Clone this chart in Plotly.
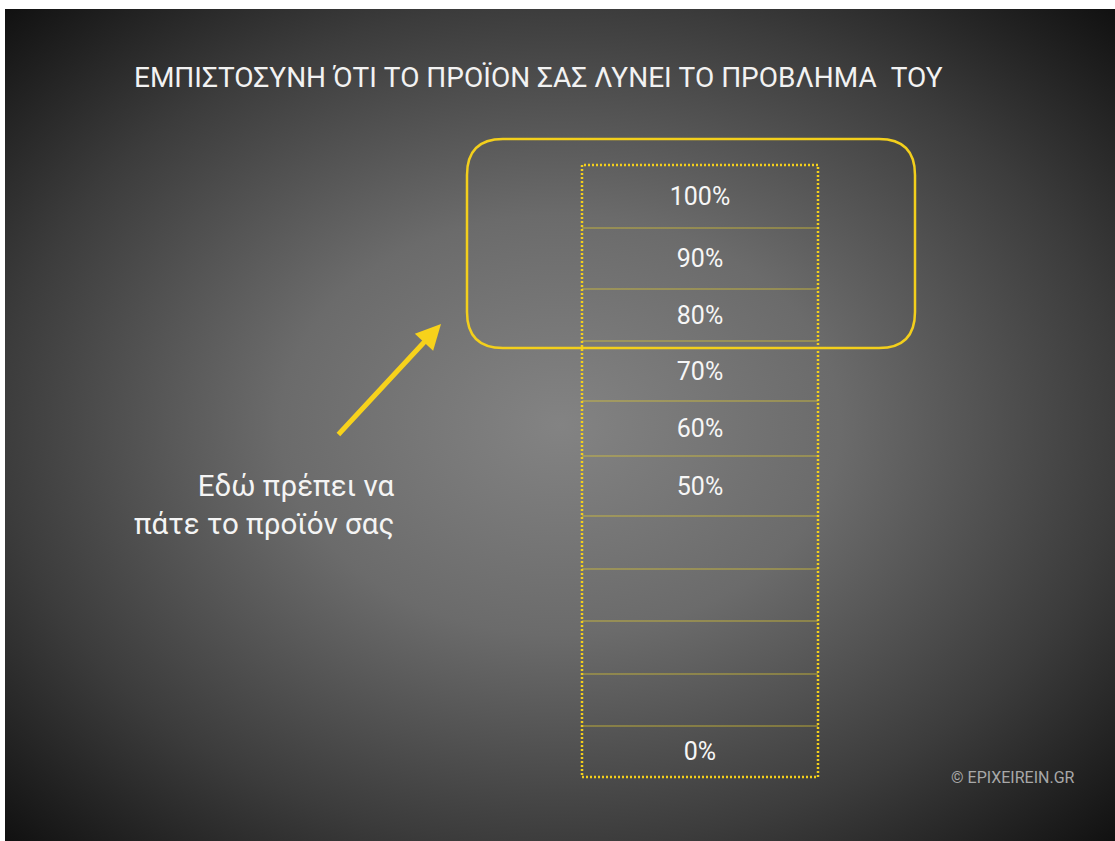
import base64
import plotly.graph_objects as go

# Confidence scale, bottom to top
levels = [0, 10, 20, 30, 40, 50, 60, 70, 80, 90, 100]
labelled_levels = [0, 50, 60, 70, 80, 90, 100]
row_heights = [51, 52, 53, 52, 53, 60, 55, 60, 52, 61, 63]

title_text = "ΕΜΠΙΣΤΟΣΥΝΗ ΌΤΙ ΤΟ ΠΡΟΪΟΝ ΣΑΣ ΛΥΝΕΙ ΤΟ ΠΡΟΒΛΗΜΑ  ΤΟΥ"
callout_text = "Εδώ πρέπει να<br>πάτε το προϊόν σας"
credit_text = "© EPIXEIREIN.GR"

W, H = 1115, 841
COL_X0, COL_X1 = 582, 818
COL_BOTTOM_PX = 777          # pixel row of the scale's zero line
YELLOW = "#f3cf1c"


def y_of(px):
    """Convert a pixel row (from the top) into y-axis units."""
    return COL_BOTTOM_PX - px


bases = []
acc = 0
for h in row_heights:
    bases.append(acc)
    acc += h
total = acc

labels = [f"{v}%" if v in labelled_levels else "" for v in levels]

fig = go.Figure()
fig.add_trace(go.Bar(
    x=[(COL_X0 + COL_X1) / 2] * len(levels),
    y=row_heights,
    base=bases,
    width=COL_X1 - COL_X0,
    text=labels,
    textposition="inside",
    insidetextanchor="middle",
    textangle=0,
    textfont=dict(family="Roboto", size=25, color="#f6f6f6"),
    marker=dict(color="rgba(0,0,0,0)", line=dict(width=0)),
    hoverinfo="skip",
    showlegend=False,
))

shapes = []
# thin separators between the rows
for b in bases[1:]:
    shapes.append(dict(type="line", xref="x", yref="y",
                       x0=COL_X0, x1=COL_X1, y0=b, y1=b,
                       line=dict(color="rgba(228,205,45,0.7)", width=1)))
# dotted outline of the whole scale
shapes.append(dict(type="rect", xref="x", yref="y",
                   x0=COL_X0, x1=COL_X1, y0=0, y1=total,
                   line=dict(color=YELLOW, width=2.5, dash="2px,2px")))

# rounded highlight around the top rows
L, R, T, B, r = 467, 915, 139, 348, 36
path = (f"M{L + r},{y_of(T)} L{R - r},{y_of(T)} Q{R},{y_of(T)} {R},{y_of(T + r)} "
        f"L{R},{y_of(B - r)} Q{R},{y_of(B)} {R - r},{y_of(B)} "
        f"L{L + r},{y_of(B)} Q{L},{y_of(B)} {L},{y_of(B - r)} "
        f"L{L},{y_of(T + r)} Q{L},{y_of(T)} {L + r},{y_of(T)} Z")
shapes.append(dict(type="path", xref="x", yref="y", path=path,
                   line=dict(color=YELLOW, width=2.5)))

# radial backdrop
svg = f"""<svg xmlns='http://www.w3.org/2000/svg' width='1110' height='832' viewBox='0 0 1110 832' preserveAspectRatio='none'>
<defs><radialGradient id='g' cx='0.5' cy='0.5' r='0.72'>
<stop offset='0' stop-color='#838383'/>
<stop offset='0.35' stop-color='#6b6b6b'/>
<stop offset='0.7' stop-color='#3c3c3c'/>
<stop offset='1' stop-color='#0e0e0e'/>
</radialGradient></defs>
<rect width='1110' height='832' fill='url(#g)'/></svg>"""
src = "data:image/svg+xml;base64," + base64.b64encode(svg.encode()).decode()

fig.update_layout(
    width=W, height=H, autosize=False,
    margin=dict(l=0, r=0, t=0, b=0, pad=0),
    paper_bgcolor="white", plot_bgcolor="rgba(0,0,0,0)",
    xaxis=dict(range=[0, W], visible=False, fixedrange=True),
    yaxis=dict(range=[COL_BOTTOM_PX - H, COL_BOTTOM_PX], visible=False, fixedrange=True),
    shapes=shapes,
    images=[dict(source=src, xref="paper", yref="paper",
                 x=5 / W, y=1 - 9 / H, sizex=1 - 5 / W, sizey=1 - 9 / H,
                 xanchor="left", yanchor="top", sizing="stretch", layer="below")],
    annotations=[
        dict(text=title_text, xref="paper", yref="paper",
             x=538 / W, y=1 - 78 / H, xanchor="center", yanchor="middle",
             showarrow=False,
             font=dict(family="Roboto", size=28, color="#f2f2f2")),
        dict(text=callout_text, xref="paper", yref="paper",
             x=397 / W, y=1 - 505 / H, xanchor="right", yanchor="middle",
             align="right", showarrow=False,
             font=dict(family="Roboto", size=29.5, color="#f4f4f4")),
        dict(text=credit_text, xref="paper", yref="paper",
             x=1077 / W, y=1 - 777 / H, xanchor="right", yanchor="middle",
             showarrow=False,
             font=dict(family="Roboto", size=16, color="#a8a8a8")),
        dict(text="", x=441, y=y_of(324), xref="x", yref="y",
             ax=337, ay=y_of(436), axref="x", ayref="y",
             showarrow=True, arrowhead=2, arrowsize=1, arrowwidth=5,
             arrowcolor="#f7d21b"),
    ],
)

fig.write_html("out.html")
